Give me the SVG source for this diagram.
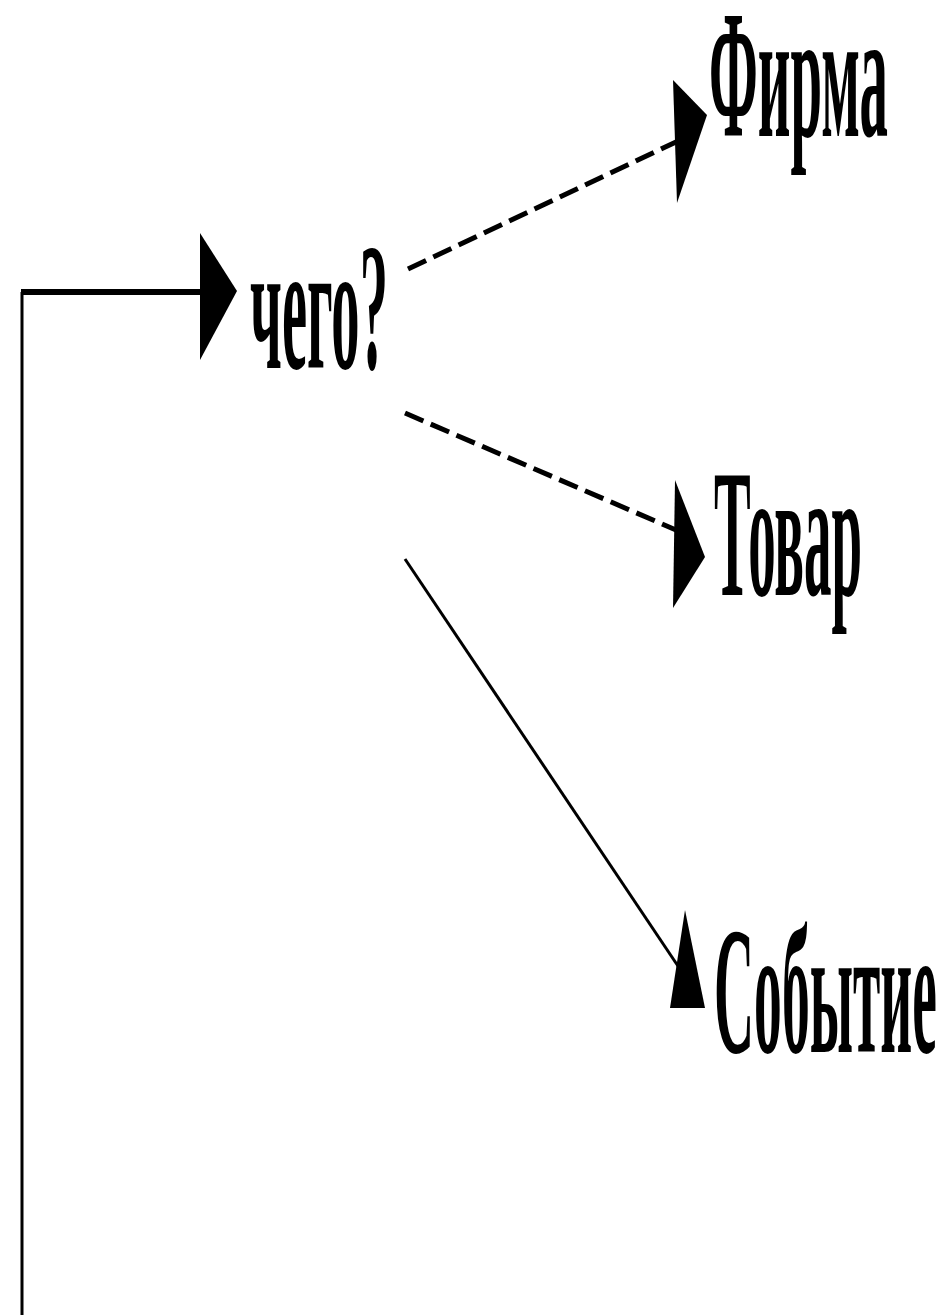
<svg xmlns="http://www.w3.org/2000/svg" width="945" height="1315" viewBox="0 0 945 1315">
<style>
.lbl{font-family:"Liberation Serif","Times New Roman",serif;font-weight:bold;font-size:50px;fill:#000}
.dash{stroke:#000;stroke-width:5;stroke-dasharray:20 8;fill:none}
.solid{stroke:#000;fill:none}
.head{fill:#000}
</style>
<rect width="945" height="1315" fill="#fff"/>
<g id="connectors">
<path class="solid" d="M22 1315 V292" stroke-width="3"/>
<path class="solid" d="M21 292 H204" stroke-width="6"/>
<polygon class="head" points="200,233 237,291 200,360"/>
<path class="dash" d="M408 269 L676 142"/>
<polygon class="head" points="673,80 707,115 677,203"/>
<path class="dash" d="M405 413 L676 530"/>
<polygon class="head" points="675,480 705,557 673,608"/>
<path class="solid" d="M405 559 L684 975" stroke-width="3"/>
<polygon class="head" points="685,910 705,1008 670,1008"/>
</g>
<g id="node-chego"><text class="lbl" transform="translate(250,368) scale(1,3.64)" textLength="138" lengthAdjust="spacingAndGlyphs">чего?</text></g>
<g id="node-firma"><text class="lbl" transform="translate(709,136) scale(1,3.64)" textLength="179" lengthAdjust="spacingAndGlyphs">Фирма</text></g>
<g id="node-tovar"><text class="lbl" transform="translate(714,595) scale(1,3.64)" textLength="148" lengthAdjust="spacingAndGlyphs">Товар</text></g>
<g id="node-sobytie"><text class="lbl" transform="translate(714,1052) scale(1,3.64)" textLength="223" lengthAdjust="spacingAndGlyphs">Событие</text></g>
</svg>
